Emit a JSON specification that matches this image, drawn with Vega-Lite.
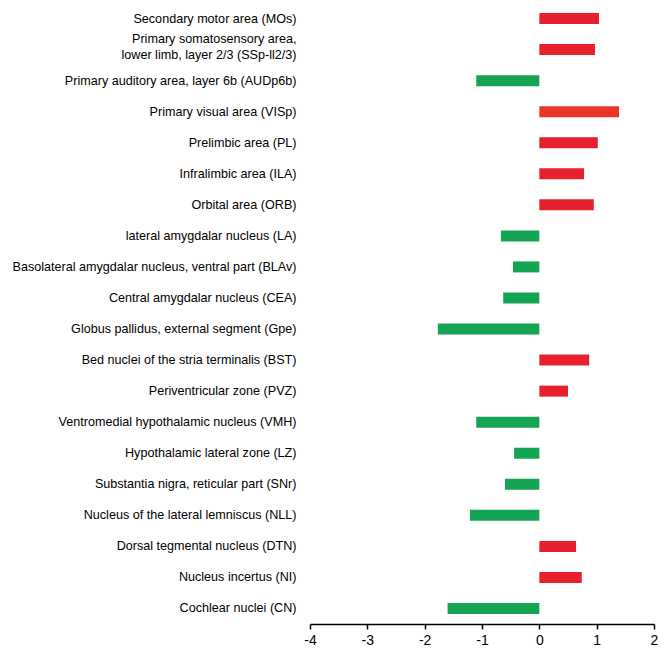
{
  "$schema": "https://vega.github.io/schema/vega-lite/v6.json",
  "autosize": "none",
  "width": 344,
  "height": 621,
  "padding": {"left": 310, "top": 3, "right": 12, "bottom": 28},
  "background": "white",
  "config": {"view": {"stroke": null}},
  "data": {
    "values": [
      {"region": "Secondary motor area (MOs)", "value": 1.04},
      {"region": "Primary somatosensory area,\nlower limb, layer 2/3 (SSp-ll2/3)", "value": 0.97},
      {"region": "Primary auditory area, layer 6b (AUDp6b)", "value": -1.10},
      {"region": "Primary visual area (VISp)", "value": 1.39},
      {"region": "Prelimbic area (PL)", "value": 1.02},
      {"region": "Infralimbic area (ILA)", "value": 0.78},
      {"region": "Orbital area (ORB)", "value": 0.95},
      {"region": "lateral amygdalar nucleus (LA)", "value": -0.67},
      {"region": "Basolateral amygdalar nucleus, ventral part (BLAv)", "value": -0.46},
      {"region": "Central amygdalar nucleus (CEA)", "value": -0.63},
      {"region": "Globus pallidus, external segment (Gpe)", "value": -1.77},
      {"region": "Bed nuclei of the stria terminalis (BST)", "value": 0.87},
      {"region": "Periventricular zone (PVZ)", "value": 0.50},
      {"region": "Ventromedial hypothalamic nucleus (VMH)", "value": -1.10},
      {"region": "Hypothalamic lateral zone (LZ)", "value": -0.44},
      {"region": "Substantia nigra, reticular part (SNr)", "value": -0.60},
      {"region": "Nucleus of the lateral lemniscus (NLL)", "value": -1.21},
      {"region": "Dorsal tegmental nucleus (DTN)", "value": 0.64},
      {"region": "Nucleus incertus (NI)", "value": 0.74},
      {"region": "Cochlear nuclei (CN)", "value": -1.60}
    ]
  },
  "encoding": {
    "y": {
      "field": "region",
      "type": "nominal",
      "sort": null,
      "scale": {"paddingInner": 0, "paddingOuter": 0},
      "axis": {
        "title": null,
        "domain": false,
        "ticks": false,
        "labelPadding": 14,
        "labelFont": "Liberation Sans",
        "labelFontSize": 12.6,
        "labelColor": "#000000",
        "labelLimit": 400,
        "labelLineHeight": 16,
        "labelOffset": {"condition": {"test": "length(split(datum.value, '\\n')) > 1", "value": -11}, "value": 0},
        "labelExpr": "split(datum.label, '\\n')"
      }
    }
  },
  "layer": [
    {
      "mark": {"type": "bar", "size": 11},
      "encoding": {
        "x": {
          "field": "value",
          "type": "quantitative",
          "scale": {"domain": [-4, 2], "nice": false},
          "axis": {
            "title": null,
            "values": [-4, -3, -2, -1, 0, 1, 2],
            "grid": false,
            "domainColor": "#000000",
            "domainWidth": 1.5,
            "tickColor": "#000000",
            "tickSize": 5,
            "tickWidth": 1.5,
            "labelFont": "Liberation Sans",
            "labelFontSize": 14,
            "labelColor": "#000000",
            "labelPadding": 4,
            "labelFlush": false,
            "labelExpr": "'' + datum.value"
          }
        },
        "x2": {"datum": 0},
        "color": {
          "condition": [
            {"test": "datum.region === 'Primary visual area (VISp)'", "value": "#E83528"},
            {"test": "datum.value > 0", "value": "#E6212D"}
          ],
          "value": "#14A454"
        }
      }
    },
    {
      "mark": {"type": "rule", "color": "#000000", "strokeWidth": 1.5},
      "encoding": {"x": {"datum": 0}}
    }
  ]
}
